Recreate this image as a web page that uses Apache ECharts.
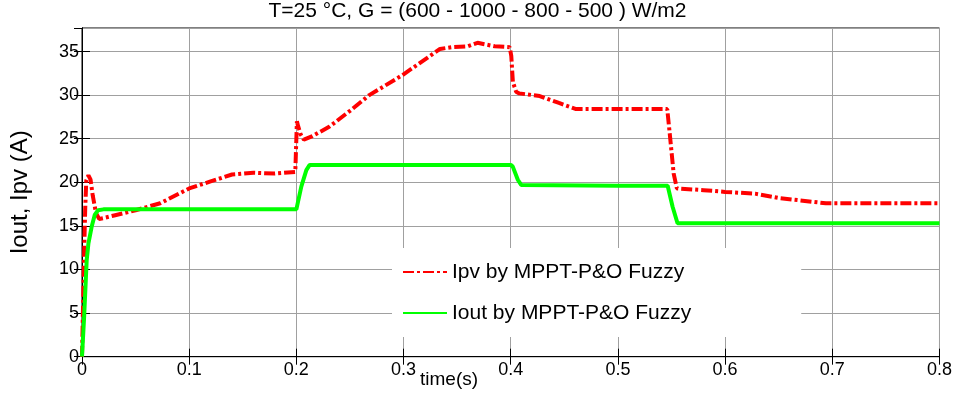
<!DOCTYPE html>
<html>
<head>
<meta charset="utf-8">
<script src="https://cdn.jsdelivr.net/npm/echarts@6/dist/echarts.min.js"></script>
<style>html,body{margin:0;padding:0;background:#fff;}#chart{width:955px;height:399px;}</style>
</head>
<body>
<div id="chart"></div>
<script>
// ---- data ----
const titleText = 'T=25 °C, G = (600 - 1000 - 800 - 500 ) W/m2';
const yAxisName = 'Iout, Ipv (A)';
const xAxisName = 'time(s)';
const ipvName = 'Ipv by MPPT-P&O Fuzzy';
const ioutName = 'Iout by MPPT-P&O Fuzzy';

const ipvTime   = [0, 0.001, 0.002, 0.003, 0.004, 0.006, 0.008, 0.010, 0.013, 0.016, 0.020, 0.030, 0.050, 0.073, 0.100, 0.120, 0.140, 0.160, 0.180, 0.199, 0.2005, 0.2015, 0.204, 0.207, 0.215, 0.231, 0.250, 0.268, 0.299, 0.334, 0.345, 0.360, 0.369, 0.385, 0.399, 0.4005, 0.402, 0.405, 0.408, 0.427, 0.445, 0.461, 0.500, 0.546, 0.548, 0.552, 0.555, 0.580, 0.600, 0.628, 0.650, 0.694, 0.750, 0.800];
const ipvValues = [0, 6.0, 12.0, 17.0, 20.2, 20.8, 20.3, 18.5, 16.5, 15.8, 15.9, 16.2, 16.8, 17.6, 19.3, 20.1, 20.9, 21.1, 21.0, 21.2, 27.0, 26.5, 25.5, 24.9, 25.3, 26.4, 28.2, 30.0, 32.3, 35.3, 35.5, 35.6, 36.0, 35.6, 35.5, 34.5, 31.5, 30.4, 30.2, 29.9, 29.1, 28.4, 28.4, 28.4, 26.0, 21.0, 19.3, 19.1, 18.9, 18.7, 18.2, 17.6, 17.6, 17.6];

const ioutTime   = [0, 0.002, 0.0044, 0.006, 0.009, 0.012, 0.015, 0.020, 0.200, 0.2046, 0.2093, 0.2124, 0.300, 0.400, 0.4019, 0.4066, 0.4097, 0.500, 0.5464, 0.551, 0.5556, 0.700, 0.800];
const ioutValues = [0, 4.6, 11.1, 13.0, 14.9, 16.3, 16.8, 16.9, 16.9, 19.5, 21.4, 22.0, 22.0, 22.0, 21.8, 20.3, 19.7, 19.6, 19.6, 17.2, 15.3, 15.3, 15.3];

const xMin = 0, xMax = 0.8, xStep = 0.1;
const yMin = 0, yMax = 37.7, yStep = 5;

// ---- chart ----
const zip = (t, v) => t.map((x, i) => [x, v[i]]);
const chart = echarts.init(document.getElementById('chart'), null, {renderer: 'canvas'});
const font = 'Liberation Sans, Arial, sans-serif';
const gridColor = '#a0a0a0';

const option = {
  animation: false,
  backgroundColor: '#fff',
  textStyle: {fontFamily: font},
  title: {
    text: titleText,
    left: 'center',
    top: 1,
    padding: [0, 0, 0, 69],
    textStyle: {fontFamily: font, fontSize: 21, fontWeight: 'normal', color: '#000'}
  },
  grid: {left: 82, right: 13.5, top: 28, bottom: 42.3, show: true, borderColor: '#000', borderWidth: 1, backgroundColor: '#fff'},
  legend: {
    orient: 'vertical',
    left: 392,
    top: 248,
    padding: [12, 110, 12, 10],
    backgroundColor: '#fff',
    itemWidth: 44,
    itemHeight: 10,
    itemGap: 17,
    itemStyle: {opacity: 0},
    textStyle: {fontFamily: font, fontSize: 21, color: '#000', lineHeight: 24},
    data: [ipvName, ioutName]
  },
  xAxis: [{
    type: 'value', min: xMin, max: xMax, interval: xStep,
    axisLine: {show: true, lineStyle: {color: '#000', width: 1}},
    axisTick: {show: true, inside: true, length: 8, lineStyle: {color: '#000'}},
    axisLabel: {margin: 4, fontFamily: font, fontSize: 18, color: '#000',
      formatter: v => (Math.abs(v) < 1e-9 ? '0' : (Math.round(v * 10) / 10).toString())},
    splitLine: {show: true, lineStyle: {color: gridColor, width: 1}}
  }, {
    type: 'value', position: 'top', min: xMin, max: xMax, interval: xStep,
    axisLine: {show: true, lineStyle: {color: '#000'}},
    axisTick: {show: true, inside: true, length: 8, lineStyle: {color: '#000'}},
    axisLabel: {show: false}, splitLine: {show: false}
  }],
  yAxis: [{
    type: 'value', min: yMin, max: yMax, interval: yStep,
    name: yAxisName, nameLocation: 'middle', nameGap: 50,
    nameTextStyle: {fontFamily: font, fontSize: 24, color: '#000'},
    axisLine: {show: true, lineStyle: {color: '#000', width: 1}},
    axisTick: {show: true, inside: true, length: 8, lineStyle: {color: '#000'}},
    axisLabel: {margin: 3, fontFamily: font, fontSize: 18, color: '#000', showMaxLabel: false},
    splitLine: {show: true, lineStyle: {color: gridColor, width: 1}}
  }, {
    type: 'value', position: 'right', min: yMin, max: yMax, interval: yStep,
    axisLine: {show: true, lineStyle: {color: '#000'}},
    axisTick: {show: true, inside: true, length: 8, lineStyle: {color: '#000'}},
    axisLabel: {show: false}, splitLine: {show: false}
  }],
  graphic: [{
    type: 'text', left: 420, top: 370,
    style: {text: xAxisName, font: '19px ' + font, fill: '#000'}
  }],
  series: [{
    name: ipvName, type: 'line', xAxisIndex: 0, yAxisIndex: 0,
    data: zip(ipvTime, ipvValues),
    showSymbol: false, symbol: 'none', smooth: false,
    lineStyle: {color: '#ff0000', width: 4, type: [11, 3, 3, 3], cap: 'butt'},
    itemStyle: {color: '#ff0000'}
  }, {
    name: ioutName, type: 'line', xAxisIndex: 0, yAxisIndex: 0,
    data: zip(ioutTime, ioutValues),
    showSymbol: false, symbol: 'none', smooth: false,
    lineStyle: {color: '#00ff00', width: 4, type: 'solid'},
    itemStyle: {color: '#00ff00'}
  }]
};
chart.setOption(option);
</script>
</body>
</html>
